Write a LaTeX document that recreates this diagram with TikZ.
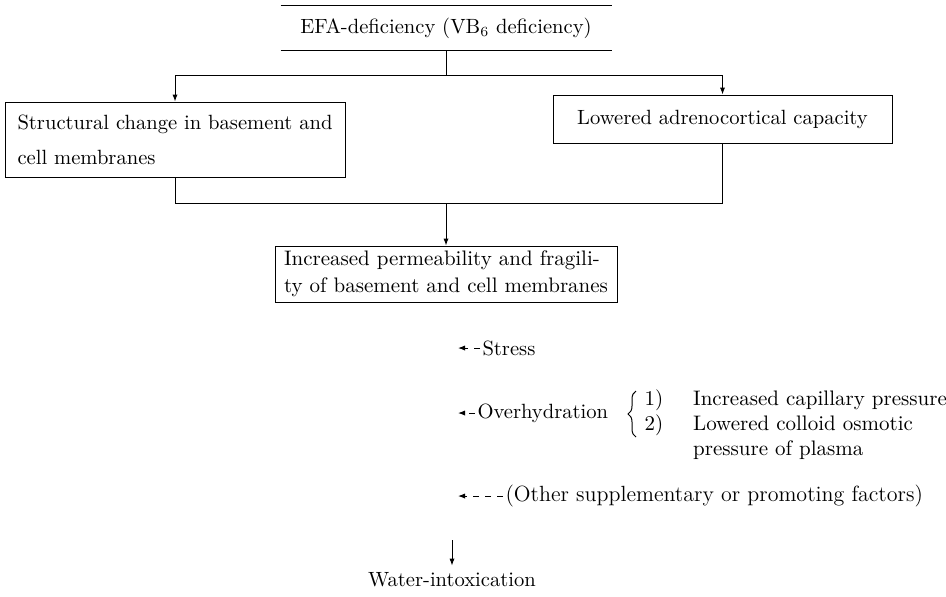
\documentclass[tikz,border=0pt]{standalone}
\usepackage{amsmath,amssymb}
\usepackage{tikz}
\usetikzlibrary{arrows.meta,decorations.pathreplacing}

\begin{document}
\begin{tikzpicture}[x=0.5pt,y=-0.5pt,line width=0.5pt,
    font=\fontsize{10.3}{12.4}\selectfont,
    >={Latex[length=3.5pt,width=2.6pt]},
    box/.style={draw,inner sep=2pt},
    factor/.style={anchor=west,inner sep=1pt},
    feed/.style={->,dashed}]

    \useasboundingbox (0,0) rectangle (946,596);

    \node[minimum width=165pt,minimum height=22pt] (efa) at (446,28) {EFA-deficiency (VB$_6$ deficiency)};
    \node[box,minimum width=170pt,minimum height=37.5pt,align=left,font=\fontsize{10.3}{17.5}\selectfont] (struct) at (175,139.5) {Structural change in basement and\\cell membranes};
    \node[box,minimum width=169.5pt,minimum height=24pt] (adreno) at (722.5,119) {Lowered adrenocortical capacity};
    \node[box,minimum width=171pt,minimum height=28pt,align=left,font=\fontsize{10.5}{13.5}\selectfont] (perm) at (446,274) {Increased permeability and fragili-\\ty of basement and cell membranes};

    \node[factor] (stress) at (480,348) {Stress};
    \node[factor] (overhyd) at (475,413) {Overhydration};
    \node[factor,font=\fontsize{10.5}{12.5}\selectfont] (causes) at (642,425) {\begin{tabular}{@{}l@{\hspace{15pt}}l@{}}1) & Increased capillary pressure\\2) & Lowered colloid osmotic\\ & pressure of plasma\end{tabular}};
    \node[factor,font=\fontsize{11}{13}\selectfont] (other) at (503,496) {(Other supplementary or promoting factors)};
    \node (water) at (452,580) {Water-intoxication};

    \coordinate (fork) at (446,75);
    \coordinate (merge) at (446,203);
    \coordinate (s-in) at (458,348);
    \coordinate (o-in) at (458,413);
    \coordinate (f-in) at (458,496);
    \coordinate (w-in) at (452,540);

    \draw (efa.north west) -- (efa.north east);
    \draw (efa.south west) -- (efa.south east);
    \draw (efa) -- (fork);
    \draw[->] (fork) -| (struct);
    \draw[->] (fork) -| (adreno);
    \draw (struct) |- (merge);
    \draw (adreno) |- (merge);
    \draw[->] (merge) -- (perm);

    \draw[feed] (stress) -- (s-in);
    \draw[feed] (overhyd) -- (o-in);
    \draw[feed] (other) -- (f-in);
    \draw[decorate,decoration={brace,amplitude=4pt}] (636,437) -- (636,391);
    \draw[->] (w-in) -- (water);

\end{tikzpicture}
\end{document}
